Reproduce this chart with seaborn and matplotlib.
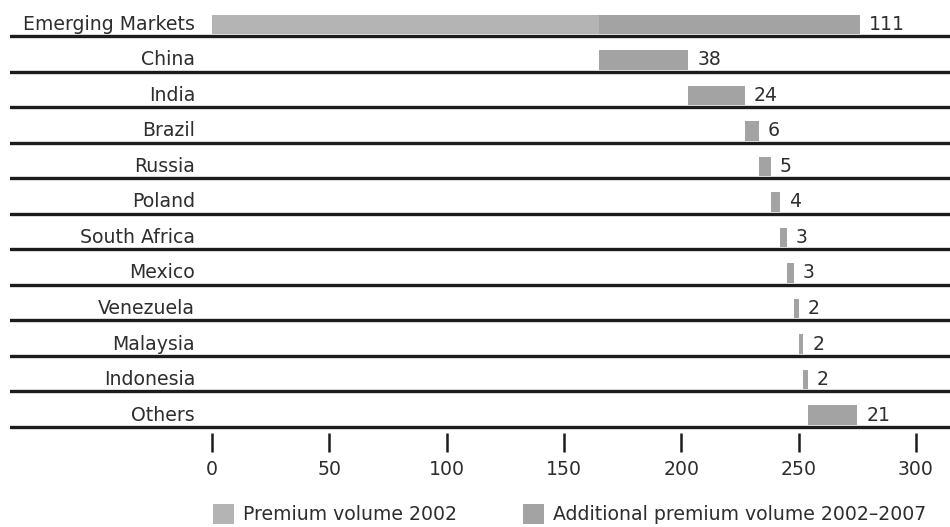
import matplotlib
matplotlib.use("Agg")
import matplotlib.pyplot as plt
from matplotlib.patches import Rectangle
import numpy as np
import pandas as pd
import seaborn as sns

# Non-life premium growth in emerging markets, USD bn
markets = ["Emerging Markets", "China", "India", "Brazil", "Russia", "Poland",
           "South Africa", "Mexico", "Venezuela", "Malaysia", "Indonesia", "Others"]
premium_2002 = [165]                      # only the aggregate row has a 2002 base bar
additional = [111, 38, 24, 6, 5, 4, 3, 3, 2, 2, 2, 21]
tick_values = [0, 50, 100, 150, 200, 250, 300]
legend_labels = ["Premium volume 2002", "Additional premium volume 2002\u20132007"]

# waterfall offsets: the aggregate and China start at the 2002 level,
# every following market starts where the previous one ended
starts = [premium_2002[0]]
running = premium_2002[0]
for v in additional[1:]:
    starts.append(running)
    running += v

LIGHT = "#b4b4b4"
DARK = "#a3a3a3"
LINE = "#1c1c1c"
TEXT = "#2e2e2e"
FS = 13.6

sns.set_theme(style="white")
plt.rcParams["font.family"] = ["DejaVu Sans"]

fig = plt.figure(figsize=(9.5, 5.27), dpi=100)
ax = fig.add_axes([10 / 950, 1 - 433 / 527, 940 / 950, 433 / 527])

base_df = pd.DataFrame({"market": markets[:1], "value": premium_2002})
add_df = pd.DataFrame({"market": markets, "value": additional, "start": starts})

bar_w = 0.56
sns.barplot(data=base_df, y="market", x="value", order=markets, orient="y",
            color=LIGHT, saturation=1, width=bar_w, errorbar=None, ax=ax,
            linewidth=0, zorder=2)
sns.barplot(data=add_df, y="market", x="value", order=markets, orient="y",
            color=DARK, saturation=1, width=bar_w, errorbar=None, ax=ax,
            left=add_df["start"].to_numpy(), linewidth=0, zorder=2)

px = 704 / 300.0  # pixels per unit
ax.set_xlim(-202 / px, (950 - 212) / px)
ax.set_ylim(11.507, -0.69)

# row separators sit right under each bar
for i in range(len(markets)):
    ax.axhline(i + bar_w / 2 + 0.045, color=LINE, lw=2.4, zorder=3)

# category names and value labels
for i, (name, s, v) in enumerate(zip(markets, starts, additional)):
    ax.text(-7.2, i, name, ha="right", va="center", fontsize=FS, color=TEXT)
    ax.text(s + v + 3.8, i, str(v), ha="left", va="center", fontsize=FS,
            color=TEXT)

ax.set_yticks([])
ax.set_ylabel("")
ax.set_xlabel("")
ax.set_xticks(tick_values)
ax.set_xticklabels([str(t) for t in tick_values])
ax.tick_params(axis="x", direction="out", length=13.5, width=1.8, color=LINE,
               pad=6, labelsize=FS, labelcolor=TEXT, bottom=True)
for side in ["top", "right", "left", "bottom"]:
    ax.spines[side].set_visible(False)

# legend drawn as swatches in figure pixels
W, H = 950.0, 527.0
for (x0, label), col in zip([(213, legend_labels[0]), (523, legend_labels[1])],
                            [LIGHT, DARK]):
    fig.add_artist(Rectangle((x0 / W, 1 - 524 / H), 21 / W, 20 / H,
                             transform=fig.transFigure, facecolor=col,
                             edgecolor="none"))
    fig.text((x0 + 30) / W, 1 - 514 / H, label, ha="left", va="center",
             fontsize=FS, color=TEXT)

fig.savefig("out.png", dpi=100, facecolor="white")
